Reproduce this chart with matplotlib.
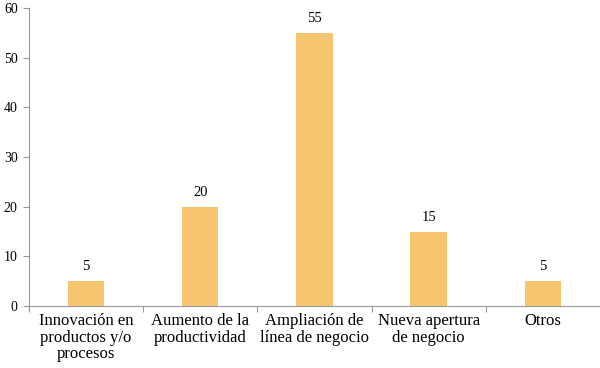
import matplotlib
matplotlib.use("Agg")
import matplotlib.pyplot as plt
import numpy as np

categories = ["Innovación en\nproductos y/o\nprocesos", "Aumento de la\nproductividad",
              "Ampliación de\nlínea de negocio", "Nueva apertura\nde negocio", "Otros"]
values = [5, 20, 55, 15, 5]
yticks = [0, 10, 20, 30, 40, 50, 60]

plt.rcParams['font.family'] = ['Liberation Serif', 'DejaVu Serif']

fig = plt.figure(figsize=(6, 3.68), dpi=100)
ax = fig.add_axes([0.048, 0.168, 0.952, 0.810])
x = np.arange(len(values))
bars = ax.bar(x, values, width=0.32, color="#F7C56F", zorder=2)
for xi, v in zip(x, values):
    ax.text(xi, v + 1.6, str(v), ha="center", va="bottom", fontsize=10.5)

ax.set_xlim(-0.5, len(values) - 0.5)
ax.set_ylim(0, 60)
ax.set_yticks(yticks)
ax.set_yticklabels([str(t) for t in yticks], fontsize=10)
ax.set_xticks(np.arange(len(values) + 1) - 0.5)
ax.set_xticklabels([])
ax.set_xticks(x, minor=True)
ax.set_xticklabels(categories, minor=True, fontsize=12, linespacing=1.05)
ax.tick_params(axis="x", which="minor", length=0, pad=5)
ax.tick_params(axis="x", which="major", length=4, color="#999999", direction="out")
ax.tick_params(axis="y", length=4, color="#999999", direction="out", pad=4)
for s in ["top", "right"]:
    ax.spines[s].set_visible(False)
for s in ["left", "bottom"]:
    ax.spines[s].set_color("#999999")
fig.savefig("out.png", dpi=100)
